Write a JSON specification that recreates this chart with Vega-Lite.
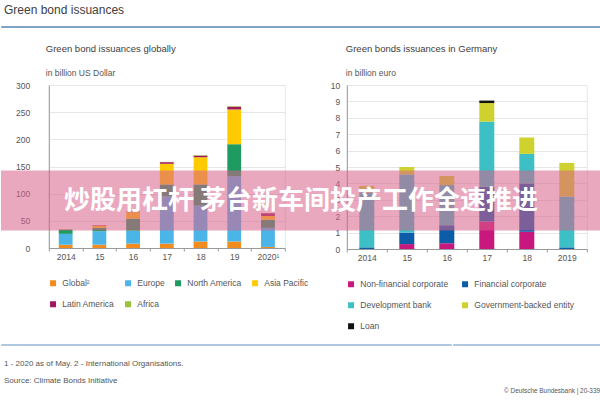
{
  "$schema": "https://vega.github.io/schema/vega-lite/v6.json",
  "padding": {"left": 0, "top": 3, "right": 0, "bottom": 0},
  "background": "white",
  "config": {"font": "Liberation Sans", "view": {"stroke": null}, "legend": {"gridAlign": "none"}},
  "datasets": {
    "global": [
      {"year": "2014", "region": "Global²", "k": 1, "v": 6},
      {"year": "2014", "region": "Europe", "k": 2, "v": 20},
      {"year": "2014", "region": "North America", "k": 3, "v": 8},
      {"year": "2014", "region": "Asia Pacific", "k": 4, "v": 0.5},
      {"year": "2014", "region": "Latin America", "k": 5, "v": 0.2},
      {"year": "15", "region": "Global²", "k": 1, "v": 6},
      {"year": "15", "region": "Europe", "k": 2, "v": 25},
      {"year": "15", "region": "North America", "k": 3, "v": 6},
      {"year": "15", "region": "Asia Pacific", "k": 4, "v": 4},
      {"year": "15", "region": "Latin America", "k": 5, "v": 1},
      {"year": "15", "region": "Africa", "k": 6, "v": 0.2},
      {"year": "16", "region": "Global²", "k": 1, "v": 8},
      {"year": "16", "region": "Europe", "k": 2, "v": 24},
      {"year": "16", "region": "North America", "k": 3, "v": 22},
      {"year": "16", "region": "Asia Pacific", "k": 4, "v": 12},
      {"year": "16", "region": "Latin America", "k": 5, "v": 1},
      {"year": "16", "region": "Africa", "k": 6, "v": 0.3},
      {"year": "17", "region": "Global²", "k": 1, "v": 8},
      {"year": "17", "region": "Europe", "k": 2, "v": 87},
      {"year": "17", "region": "North America", "k": 3, "v": 22},
      {"year": "17", "region": "Asia Pacific", "k": 4, "v": 38},
      {"year": "17", "region": "Latin America", "k": 5, "v": 3},
      {"year": "17", "region": "Africa", "k": 6, "v": 0.5},
      {"year": "18", "region": "Global²", "k": 1, "v": 12},
      {"year": "18", "region": "Europe", "k": 2, "v": 66},
      {"year": "18", "region": "North America", "k": 3, "v": 39},
      {"year": "18", "region": "Asia Pacific", "k": 4, "v": 50},
      {"year": "18", "region": "Latin America", "k": 5, "v": 3},
      {"year": "18", "region": "Africa", "k": 6, "v": 1},
      {"year": "19", "region": "Global²", "k": 1, "v": 12},
      {"year": "19", "region": "Europe", "k": 2, "v": 120},
      {"year": "19", "region": "North America", "k": 3, "v": 59},
      {"year": "19", "region": "Asia Pacific", "k": 4, "v": 64},
      {"year": "19", "region": "Latin America", "k": 5, "v": 5},
      {"year": "19", "region": "Africa", "k": 6, "v": 1},
      {"year": "2020¹", "region": "Global²", "k": 1, "v": 2},
      {"year": "2020¹", "region": "Europe", "k": 2, "v": 35},
      {"year": "2020¹", "region": "North America", "k": 3, "v": 15},
      {"year": "2020¹", "region": "Asia Pacific", "k": 4, "v": 7},
      {"year": "2020¹", "region": "Latin America", "k": 5, "v": 5},
      {"year": "2020¹", "region": "Africa", "k": 6, "v": 0.5}
    ],
    "germany": [
      {"year": "2014", "issuer": "Financial corporate", "k": 2, "v": 0.1},
      {"year": "2014", "issuer": "Development bank", "k": 3, "v": 3.35},
      {"year": "2014", "issuer": "Government-backed entity", "k": 4, "v": 0.4},
      {"year": "15", "issuer": "Non-financial corporate", "k": 1, "v": 0.3},
      {"year": "15", "issuer": "Financial corporate", "k": 2, "v": 0.7},
      {"year": "15", "issuer": "Development bank", "k": 3, "v": 3.55},
      {"year": "15", "issuer": "Government-backed entity", "k": 4, "v": 0.45},
      {"year": "16", "issuer": "Non-financial corporate", "k": 1, "v": 0.35},
      {"year": "16", "issuer": "Financial corporate", "k": 2, "v": 1.1},
      {"year": "16", "issuer": "Development bank", "k": 3, "v": 2.45},
      {"year": "16", "issuer": "Government-backed entity", "k": 4, "v": 0.55},
      {"year": "17", "issuer": "Non-financial corporate", "k": 1, "v": 1.67},
      {"year": "17", "issuer": "Financial corporate", "k": 2, "v": 2.13},
      {"year": "17", "issuer": "Development bank", "k": 3, "v": 3.97},
      {"year": "17", "issuer": "Government-backed entity", "k": 4, "v": 1.13},
      {"year": "17", "issuer": "Loan", "k": 5, "v": 0.15},
      {"year": "18", "issuer": "Non-financial corporate", "k": 1, "v": 1.05},
      {"year": "18", "issuer": "Financial corporate", "k": 2, "v": 2.95},
      {"year": "18", "issuer": "Development bank", "k": 3, "v": 1.8},
      {"year": "18", "issuer": "Government-backed entity", "k": 4, "v": 1.0},
      {"year": "2019", "issuer": "Financial corporate", "k": 2, "v": 0.1},
      {"year": "2019", "issuer": "Development bank", "k": 3, "v": 3.1},
      {"year": "2019", "issuer": "Government-backed entity", "k": 4, "v": 2.05}
    ]
  },
  "spacing": 6,
  "resolve": {"scale": {"color": "independent"}, "legend": {"color": "independent"}},
  "vconcat": [
    {
      "spacing": 11,
      "resolve": {"scale": {"color": "independent"}, "legend": {"color": "independent"}},
      "vconcat": [
        {
          "width": 600,
          "height": 1,
          "data": {"values": [{}]},
          "mark": {"type": "text", "text": ""},
          "encoding": {},
          "view": {"stroke": "#7fa3c8", "strokeWidth": 1},
          "title": {"text": "Green bond issuances", "anchor": "start", "frame": "group", "dx": 3, "fontSize": 12, "fontWeight": "normal", "color": "#404040", "offset": 3.5}
        },
        {
          "spacing": 85.5,
          "bounds": "flush",
          "resolve": {"scale": {"color": "independent"}, "legend": {"color": "independent"}},
          "vconcat": [
            {
              "spacing": 12.8,
              "resolve": {"scale": {"color": "independent"}, "legend": {"color": "independent"}},
              "hconcat": [
                {
                  "width": 1,
                  "height": 1,
                  "data": {"values": [{}]},
                  "mark": {"type": "text", "text": ""},
                  "encoding": {}
                },
                {
                  "spacing": 20,
                  "resolve": {"scale": {"color": "independent"}, "legend": {"color": "independent"}},
                  "hconcat": [
                    {
                      "width": 236,
                      "height": 163,
                      "data": {"name": "global"},
                      "view": {"stroke": "#e6e6e6"},
                      "title": {"text": "Green bond issuances globally", "subtitle": "in billion US Dollar", "anchor": "start", "frame": "group", "dx": -3, "fontSize": 9.5, "fontWeight": "normal", "color": "#404040", "subtitleFontSize": 8.5, "subtitleColor": "#555555", "subtitlePadding": 15.5, "offset": 4},
                      "mark": {"type": "bar", "width": {"band": 0.41}},
                      "encoding": {
                        "x": {"field": "year", "type": "ordinal", "sort": ["2014", "15", "16", "17", "18", "19", "2020¹"], "scale": {"paddingInner": 0, "paddingOuter": 0},
                          "axis": {"title": null, "labelAngle": 0, "tickBand": "extent", "tickSize": 3, "tickColor": "#999999", "domainColor": "#999999", "labelFontSize": 8.5, "labelColor": "#555555", "labelPadding": 1}},
                        "y": {"field": "v", "type": "quantitative", "scale": {"domain": [0, 300], "nice": false},
                          "axis": {"values": [0, 50, 100, 150, 200, 250, 300], "title": null, "ticks": false, "tickSize": 0, "labelPadding": 19, "domainColor": "#999999", "gridColor": "#e6e6e6", "labelFontSize": 8.5, "labelColor": "#555555"}},
                        "color": {"field": "region", "type": "nominal",
                          "scale": {"domain": ["Global²", "Europe", "North America", "Asia Pacific", "Latin America", "Africa"], "range": ["#f28c1e", "#4cb5e8", "#1f9a60", "#fecb00", "#a0175f", "#99c23a"]},
                          "legend": {"title": null, "orient": "bottom", "direction": "horizontal", "columns": 4, "gridAlign": "none", "symbolType": "square", "symbolSize": 36, "symbolStrokeWidth": 0, "labelFontSize": 8.5, "labelColor": "#555555", "labelOffset": 5, "columnPadding": 9, "rowPadding": 12, "offset": 18, "padding": 0}},
                        "order": {"field": "k", "type": "quantitative"}
                      }
                    },
                    {
                      "width": 240,
                      "height": 164,
                      "data": {"name": "germany"},
                      "view": {"stroke": "#e6e6e6"},
                      "title": {"text": "Green bonds issuances in Germany", "subtitle": "in billion euro", "anchor": "start", "frame": "group", "dx": -1, "fontSize": 9.5, "fontWeight": "normal", "color": "#404040", "subtitleFontSize": 8.5, "subtitleColor": "#555555", "subtitlePadding": 15.5, "offset": 4},
                      "mark": {"type": "bar", "width": {"band": 0.375}},
                      "encoding": {
                        "x": {"field": "year", "type": "ordinal", "sort": ["2014", "15", "16", "17", "18", "2019"], "scale": {"paddingInner": 0, "paddingOuter": 0},
                          "axis": {"title": null, "labelAngle": 0, "tickBand": "extent", "tickSize": 3, "tickColor": "#999999", "domainColor": "#999999", "labelFontSize": 8.5, "labelColor": "#555555", "labelPadding": 1}},
                        "y": {"field": "v", "type": "quantitative", "scale": {"domain": [0, 10], "nice": false},
                          "axis": {"values": [0, 1, 2, 3, 4, 5, 6, 7, 8, 9, 10], "title": null, "ticks": false, "tickSize": 0, "labelPadding": 7, "domainColor": "#999999", "gridColor": "#e6e6e6", "labelFontSize": 8.5, "labelColor": "#555555"}},
                        "color": {"field": "issuer", "type": "nominal",
                          "scale": {"domain": ["Non-financial corporate", "Financial corporate", "Development bank", "Government-backed entity", "Loan"], "range": ["#c8187e", "#0c5ca8", "#3dbfc6", "#cfd22e", "#111111"]},
                          "legend": {"title": null, "orient": "bottom", "direction": "horizontal", "columns": 2, "gridAlign": "none", "symbolType": "square", "symbolSize": 36, "symbolStrokeWidth": 0, "labelFontSize": 8.5, "labelColor": "#555555", "labelOffset": 5, "columnPadding": 12, "rowPadding": 12, "offset": 18, "padding": 0}},
                        "order": {"field": "k", "type": "quantitative"}
                      }
                    }
                  ]
                }
              ]
            },
            {
              "width": 600,
              "height": 60,
              "data": {"values": [{"t": "炒股用杠杆 茅台新车间投产工作全速推进"}]},
              "view": {"fill": "#d8608a", "fillOpacity": 0.55, "stroke": null},
              "mark": {"type": "text", "font": "Noto Sans CJK SC", "fontSize": 26, "fontWeight": "bold", "color": "#ffffff"},
              "encoding": {"text": {"field": "t", "type": "nominal"}}
            }
          ]
        }
      ]
    },
    {
      "spacing": 0,
      "hconcat": [
        {
          "width": 450,
          "height": 1,
          "data": {"values": [{}]},
          "mark": {"type": "text", "text": ""},
          "encoding": {},
          "view": {"stroke": "#b0c8df"},
          "title": {"text": ["1 - 2020 as of May.  2 - International Organisations.", "Source: Climate Bonds Initiative"], "orient": "bottom", "anchor": "start", "frame": "group", "dx": 3, "offset": 10, "fontSize": 8, "fontWeight": "normal", "color": "#555555", "lineHeight": 17}
        },
        {
          "width": 150,
          "height": 1,
          "data": {"values": [{}]},
          "mark": {"type": "text", "text": ""},
          "encoding": {},
          "view": {"stroke": "#b0c8df"},
          "title": {"text": "© Deutsche Bundesbank | 20-339", "orient": "bottom", "anchor": "end", "frame": "group", "dx": -3, "offset": 38, "fontSize": 6.4, "fontWeight": "normal", "color": "#555555"}
        }
      ]
    }
  ]
}
